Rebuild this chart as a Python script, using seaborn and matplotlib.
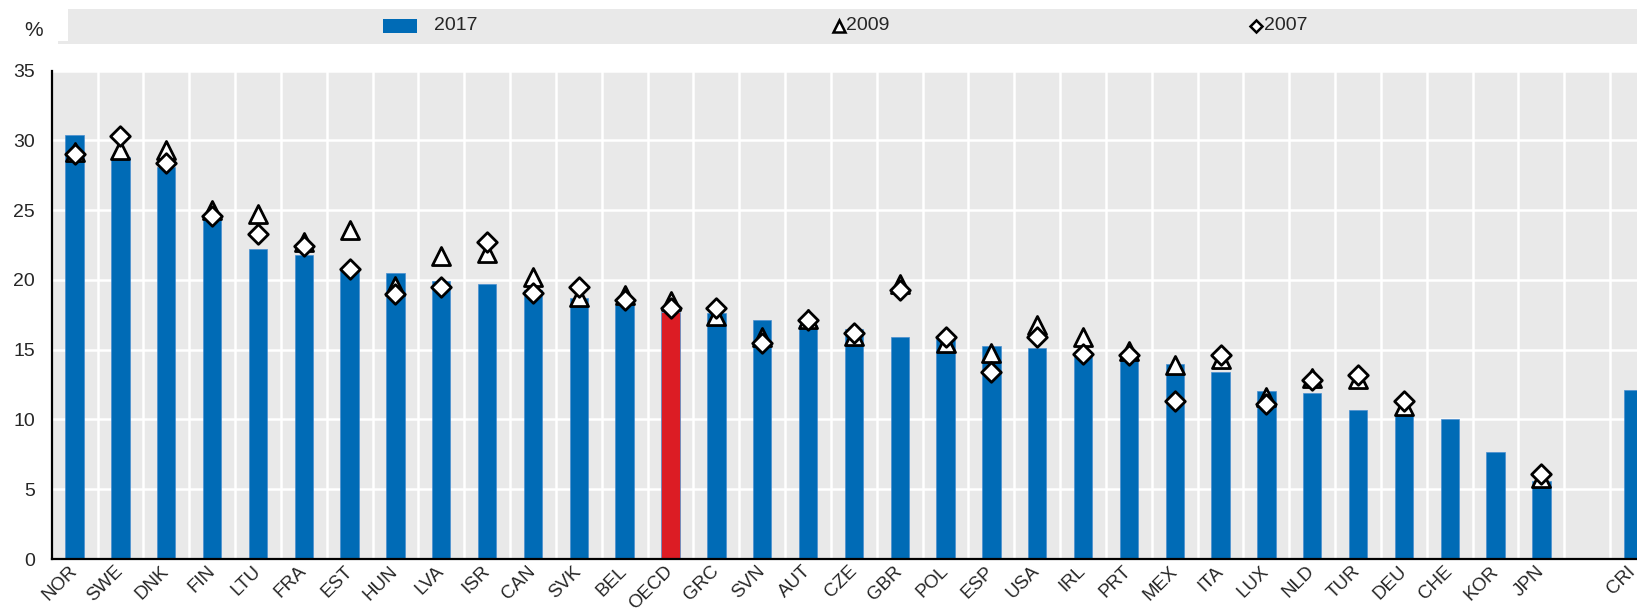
import numpy as np
import pandas as pd
import matplotlib
matplotlib.use("Agg")
import matplotlib.pyplot as plt
import seaborn as sns
from matplotlib.patches import Rectangle
from matplotlib.lines import Line2D

nan = np.nan
countries = ["NOR", "SWE", "DNK", "FIN", "LTU", "FRA", "EST", "HUN", "LVA", "ISR",
             "CAN", "SVK", "BEL", "OECD", "GRC", "SVN", "AUT", "CZE", "GBR", "POL",
             "ESP", "USA", "IRL", "PRT", "MEX", "ITA", "LUX", "NLD", "TUR", "DEU",
             "CHE", "KOR", "JPN", " ", "CRI"]
v2017 = [30.4, 28.8, 28.1, 24.3, 22.2, 21.8, 20.8, 20.5, 19.9, 19.7,
         19.3, 18.7, 18.2, 17.7, 17.6, 17.1, 16.8, 16.5, 15.9, 15.75,
         15.3, 15.1, 14.7, 14.3, 14.0, 13.4, 12.05, 11.9, 10.7, 10.4,
         10.0, 7.7, 5.6, nan, 12.1]
v2009 = [29.2, 29.3, 29.3, 25.0, 24.7, 22.7, 23.6, 19.6, 21.7, 21.9,
         20.2, 18.8, 18.9, 18.5, 17.4, 15.9, 17.2, 16.0, 19.7, 15.45,
         14.8, 16.8, 15.9, 14.9, 13.9, 14.3, 11.6, 13.0, 12.9, 11.0,
         nan, nan, 5.8, nan, nan]
v2007 = [29.0, 30.3, 28.4, 24.6, 23.3, 22.4, 20.8, 19.0, 19.5, 22.7,
         19.1, 19.5, 18.55, 18.0, 18.0, 15.5, 17.1, 16.2, 19.3, 15.9,
         13.4, 15.9, 14.7, 14.6, 11.3, 14.6, 11.1, 12.8, 13.2, 11.3,
         nan, nan, 6.1, nan, nan]
yticks = [0, 5, 10, 15, 20, 25, 30, 35]

BLUE = "#006BB6"
RED = "#DC1C24"
BG = "#E9E9E9"

sns.set_style("white")
plt.rcParams["font.family"] = ["Liberation Sans", "DejaVu Sans"]

df = pd.DataFrame({"country": countries, "v2017": v2017, "v2009": v2009, "v2007": v2007})
pal = {c: (RED if c == "OECD" else BLUE) for c in countries}

W, H = 1637, 611
fig = plt.figure(figsize=(W / 100, H / 100), dpi=100)
ax = fig.add_axes([51.7 / W, 1 - 559 / H, (1656 - 51.7) / W, (559 - 70.7) / H])
ax.set_facecolor(BG)

sns.barplot(data=df, x="country", y="v2017", hue="country", palette=pal, order=countries,
            hue_order=countries, width=0.4, saturation=1, legend=False, ax=ax,
            edgecolor="#4a8fd0", linewidth=0.5, zorder=2)
sns.stripplot(data=df, x="country", y="v2009", order=countries, jitter=False, marker="^",
              size=13, color="white", edgecolor="black", linewidth=2.0, ax=ax, zorder=3)
sns.stripplot(data=df, x="country", y="v2007", order=countries, jitter=False, marker="D",
              size=10, color="white", edgecolor="black", linewidth=2.0, ax=ax, zorder=4)

ax.set_xlim(-0.5, len(countries) - 0.5)
ax.set_ylim(0, 35)
ax.set_yticks(yticks)
ax.set_xticks(range(len(countries)))
ax.set_xticklabels(countries, rotation=45, ha="right", va="center", rotation_mode="anchor")
ax.set_xticks(np.arange(0.5, len(countries) - 0.5, 1), minor=True)
ax.set_xlabel("")
ax.set_ylabel("")

ax.tick_params(axis="x", which="major", length=0, pad=7, labelsize=13.5)
ax.tick_params(axis="x", which="minor", direction="in", length=5, width=1.5, color="black")
ax.tick_params(axis="y", which="major", direction="in", length=5, width=1.5, color="black",
               pad=12, labelsize=14)
ax.set_axisbelow(True)
ax.grid(which="minor", axis="x", color="white", linewidth=1.8)
ax.grid(which="major", axis="y", color="white", linewidth=1.8)
ax.grid(which="major", axis="x", visible=False)
for s in ["top", "right"]:
    ax.spines[s].set_visible(False)
for s in ["left", "bottom"]:
    ax.spines[s].set_color("black")
    ax.spines[s].set_linewidth(1.6)
    ax.spines[s].set_zorder(5)

# legend band
fig.add_artist(Rectangle((68 / W, 1 - 44 / H), 1 - 68 / W, 35 / H, transform=fig.transFigure,
                         facecolor=BG, edgecolor="none", zorder=0))
fig.add_artist(Rectangle((58 / W, 1 - 44 / H), 12 / W, 3 / H, transform=fig.transFigure,
                         facecolor=BG, edgecolor="none", zorder=0))
fig.add_artist(Rectangle((383 / W, 1 - 32.7 / H), 34 / W, 13.4 / H, transform=fig.transFigure,
                         facecolor=BLUE, edgecolor="none", zorder=1))
fig.text(434 / W, 1 - 25 / H, "2017", ha="left", va="center", fontsize=14)
fig.add_artist(Line2D([839 / W], [1 - 26 / H], transform=fig.transFigure, marker="^",
                      markersize=9, markerfacecolor="white", markeredgecolor="black",
                      markeredgewidth=1.8, linestyle="none"))
fig.text(846 / W, 1 - 25 / H, "2009", ha="left", va="center", fontsize=14)
fig.add_artist(Line2D([1256 / W], [1 - 25.5 / H], transform=fig.transFigure, marker="D",
                      markersize=6.5, markerfacecolor="white", markeredgecolor="black",
                      markeredgewidth=1.8, linestyle="none"))
fig.text(1264 / W, 1 - 25 / H, "2007", ha="left", va="center", fontsize=14)
fig.text(34 / W, 1 - 30 / H, "%", ha="center", va="center", fontsize=15)

fig.savefig("out.png", dpi=100)
